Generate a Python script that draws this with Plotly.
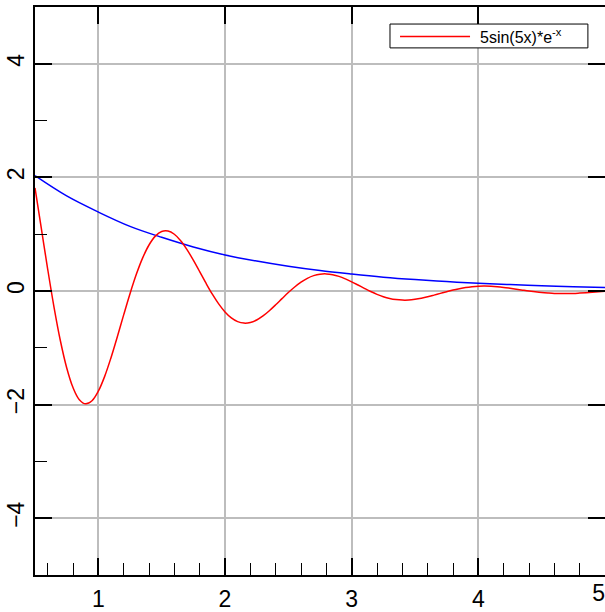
import plotly.graph_objects as go

# Sample points of the damped sine, x from 0.5 to 5 in steps of 0.05
x_red = [round(0.5 + 0.05 * i, 2) for i in range(91)]
y_red = [
    1.815, 1.101, 0.387, -0.282, -0.871, -1.350, -1.700, -1.913, -1.987, -1.932,
    -1.764, -1.503, -1.174, -0.805, -0.421, -0.048, 0.293, 0.583, 0.810, 0.966,
    1.047, 1.055, 0.999, 0.886, 0.729, 0.543, 0.341, 0.137, -0.056, -0.227,
    -0.368, -0.473, -0.539, -0.565, -0.554, -0.510, -0.439, -0.347, -0.243, -0.134,
    -0.027, 0.071, 0.156, 0.223, 0.270, 0.296, 0.301, 0.287, 0.257, 0.214,
    0.162, 0.105, 0.047, -0.009, -0.059, -0.100, -0.131, -0.151, -0.160, -0.159,
    -0.147, -0.128, -0.103, -0.073, -0.042, -0.012, 0.017, 0.041, 0.061, 0.075,
    0.084, 0.086, 0.083, 0.075, 0.063, 0.048, 0.032, 0.015, -0.001, -0.015,
    -0.027, -0.036, -0.043, -0.045, -0.045, -0.043, -0.037, -0.030, -0.022, -0.013,
    -0.004,
]

# Decaying envelope curve, x from 0.5 to 5 in steps of 0.25
x_blue = [0.5, 0.75, 1.0, 1.25, 1.5, 1.75, 2.0, 2.25, 2.5, 2.75,
          3.0, 3.25, 3.5, 3.75, 4.0, 4.25, 4.5, 4.75, 5.0]
y_blue = [2.03, 1.673, 1.39, 1.138, 0.945, 0.775, 0.635, 0.527, 0.435, 0.359,
          0.298, 0.244, 0.201, 0.166, 0.137, 0.113, 0.093, 0.076, 0.06]

red_label = "5sin(5x)*e<sup>-x</sup>"

x_ticks = [1, 2, 3, 4, 5]
x_edge_tick = [5]
y_ticks = [-4, -2, 0, 2, 4]

FONT = "Liberation Sans, Arial, Helvetica, sans-serif"
TICK_SIZE = 23
tick_font = dict(family=FONT, size=TICK_SIZE, color="black")

fig = go.Figure()
fig.add_trace(go.Scatter(x=x_blue, y=y_blue, mode="lines", line=dict(color="#0000ff", width=1.5, shape="spline"),
                         showlegend=False))
fig.add_trace(go.Scatter(x=x_red, y=y_red, mode="lines", line=dict(color="#ff0000", width=1.5, shape="spline"),
                         name=red_label, showlegend=False))
# empty traces so the mirrored top/right tick axes and the edge label axis get drawn
fig.add_trace(go.Scatter(x=[None], y=[None], xaxis="x2", yaxis="y2", showlegend=False))
fig.add_trace(go.Scatter(x=[None], y=[None], xaxis="x3", yaxis="y", showlegend=False))

fig.update_layout(
    width=605, height=612,
    margin=dict(l=35, r=0, t=7, b=35),
    paper_bgcolor="white", plot_bgcolor="white",
    font=dict(family=FONT, color="black", size=TICK_SIZE),
    xaxis=dict(
        range=[0.5, 5], tickvals=x_ticks[:-1], ticktext=[str(v) for v in x_ticks[:-1]],
        ticks="inside", ticklen=17, tickwidth=2, tickcolor="black",
        showline=True, linecolor="black", linewidth=2, mirror=True,
        showgrid=True, gridcolor="#bdbdbd", gridwidth=1.5, zeroline=False,
        minor=dict(dtick=0.2, tick0=0, ticks="inside", ticklen=12, tickwidth=1, tickcolor="black", showgrid=False),
        tickfont=tick_font, ticklabelstandoff=2,
    ),
    # the last x label sits just left of the right edge
    xaxis3=dict(
        range=[0.5, 5], overlaying="x", side="bottom", anchor="y",
        tickvals=x_edge_tick, ticktext=[str(v) for v in x_edge_tick],
        ticks="", ticklabelposition="outside left", tickfont=tick_font, ticklabelstandoff=2,
        showgrid=False, zeroline=False, showline=False, ticklabeloverflow="allow",
    ),
    yaxis=dict(
        range=[-5, 5], tickvals=y_ticks,
        ticks="inside", ticklen=17, tickwidth=2, tickcolor="black",
        showline=True, linecolor="black", linewidth=2,
        showgrid=True, gridcolor="#bdbdbd", gridwidth=1.5, zeroline=False,
        minor=dict(dtick=1, tick0=1, ticks="inside", ticklen=12, tickwidth=1, tickcolor="black", showgrid=False),
        tickangle=-90, tickfont=tick_font, ticklabelstandoff=0,
    ),
    xaxis2=dict(
        range=[0.5, 5], overlaying="x", side="top", tickvals=x_ticks,
        ticks="inside", ticklen=17, tickwidth=2, tickcolor="black",
        showticklabels=False, showgrid=False, zeroline=False, showline=False,
    ),
    yaxis2=dict(
        range=[-5, 5], overlaying="y", side="right", tickvals=y_ticks,
        ticks="inside", ticklen=17, tickwidth=2, tickcolor="black",
        showticklabels=False, showgrid=False, zeroline=False, showline=False,
    ),
)

# legend box with a line sample and the label for the red curve
fig.add_shape(type="rect", xref="paper", yref="paper", x0=0.6228, x1=0.970, y0=0.928, y1=0.970,
              line=dict(color="black", width=1), fillcolor="white", layer="above")
fig.add_shape(type="line", xref="paper", yref="paper", x0=0.6404, x1=0.7632, y0=0.948, y1=0.948,
              line=dict(color="#ff0000", width=1.5), layer="above")
fig.add_annotation(xref="paper", yref="paper", x=0.777, y=0.949, xanchor="left", yanchor="middle",
                   text=red_label, showarrow=False, font=dict(family=FONT, size=16, color="black"))

fig.write_html("out.html")
